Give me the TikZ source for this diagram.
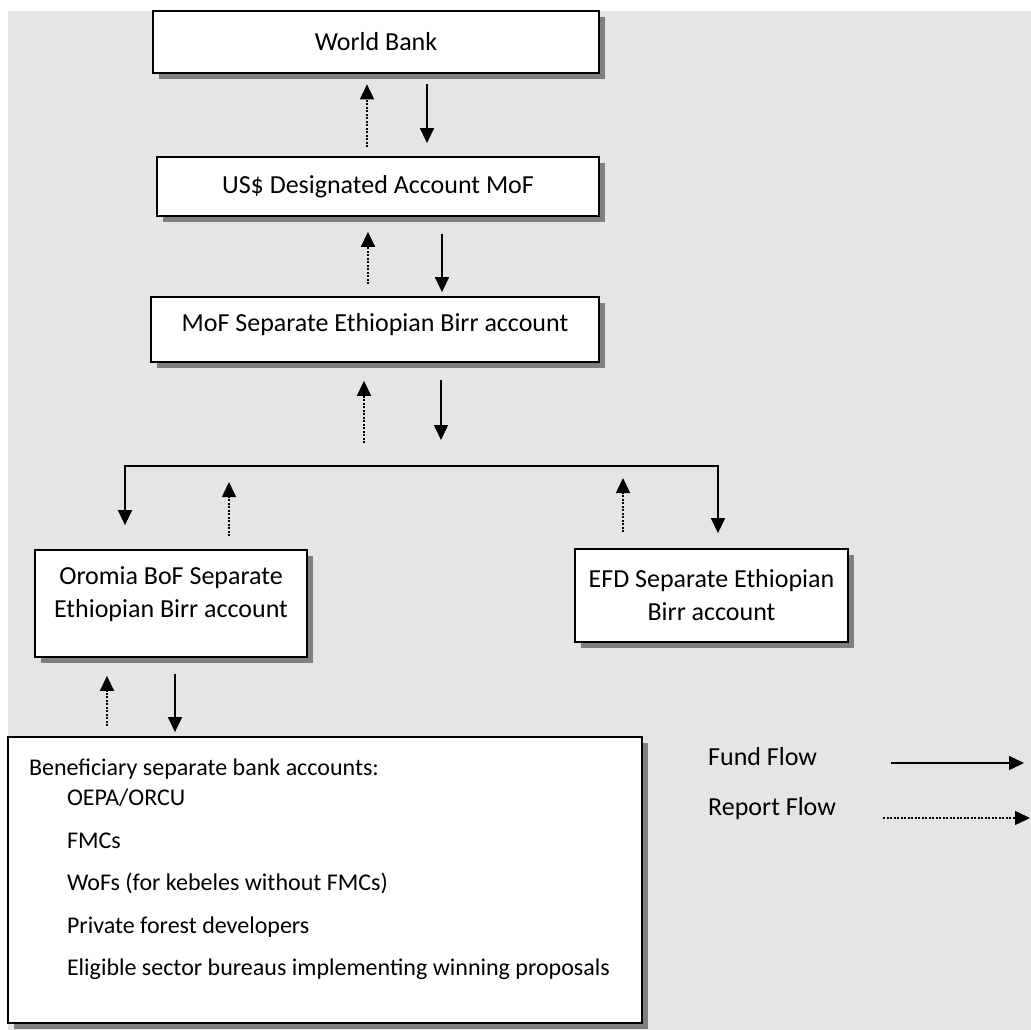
\documentclass[tikz,border=0pt]{standalone}
\usepackage{fontspec}
\setmainfont{Carlito}
\usetikzlibrary{shapes,arrows.meta,shadows,positioning}
\definecolor{bggray}{RGB}{229,229,229}
\definecolor{shadowgray}{RGB}{128,128,128}
\tikzstyle{acct} = [rectangle, draw, fill=white, line width=1.8pt, align=flush center,
    font=\fontsize{26}{33}\selectfont,
    drop shadow={shadow xshift=6pt, shadow yshift=-6pt, fill=shadowgray, opacity=1}]
\tikzstyle{fund} = [draw, line width=1.5pt, ->]
\tikzstyle{report} = [draw, line width=1.5pt, dash pattern=on 2pt off 1.5pt, ->]
\tikzstyle{key} = [inner sep=0pt, anchor=base west, font=\fontsize{26}{33}\selectfont]

\begin{document}
\begin{tikzpicture}[x=1pt, y=-1pt, node distance=144pt, >={Triangle[length=15pt, width=14pt]}]
    \useasboundingbox (0,0) rectangle (1031,1030);
    \fill [bggray] (8,11) rectangle (1031,1030);
    % Place nodes
    \node [acct, line width=2.6pt, minimum width=446pt, minimum height=62pt] (wb) at (376,42) {World Bank};
    \node [acct, below of=wb, node distance=144.5pt, xshift=2pt, minimum width=442pt, minimum height=59pt] (usd) {US\$ Designated Account MoF};
    \node [acct, below of=usd, node distance=143pt, xshift=-3pt, text width=420pt, minimum width=448pt, minimum height=65pt] (mof) {MoF Separate Ethiopian Birr account\par\kern9pt};
    \node [acct, below of=mof, node distance=274pt, xshift=-204pt, text width=240pt, minimum width=272pt, minimum height=107pt] (oromia) {Oromia BoF Separate\\Ethiopian Birr account\par\kern18pt};
    \node [acct, right of=oromia, node distance=540.5pt, yshift=8pt, minimum width=273pt, minimum height=93pt] (efd) {EFD Separate Ethiopian\\Birr account};
    \node [acct, below of=oromia, node distance=276.5pt, xshift=154pt, text width=592pt, inner xsep=21pt, minimum width=634pt, minimum height=286pt, align=flush left, font=\fontsize{24}{30}\selectfont] (ben) {Beneficiary separate bank accounts:\\
        \hspace*{38pt}OEPA/ORCU\\[12.5pt]
        \hspace*{38pt}FMCs\\[12.5pt]
        \hspace*{38pt}WoFs (for kebeles without FMCs)\\[12.5pt]
        \hspace*{38pt}Private forest developers\\[12.5pt]
        \hspace*{38pt}Eligible sector bureaus implementing winning proposals\par\kern21pt};
    % Legend
    \node [key] (fundkey) at (708,765) {Fund Flow};
    \node [key] (reportkey) at (708,815) {Report Flow};
    \coordinate (fundA) at (891,763);
    \coordinate (fundB) at (1024,763);
    \coordinate (reportA) at (883,818);
    \coordinate (reportB) at (1030,818);
    \coordinate (jl) at (125,466);
    \coordinate (jr) at (718,466);
    % Draw edges
    \path [fund, shorten <=10pt, shorten >=13pt] ([xshift=51pt]wb.south) -- ([xshift=51pt]wb.south |- usd.north);
    \path [report, shorten <=9pt, shorten >=10pt] ([xshift=-9pt]wb.south |- usd.north) -- ([xshift=-9pt]wb.south);
    \path [fund, shorten <=17pt, shorten >=4pt] ([xshift=64pt]usd.south) -- ([xshift=64pt]usd.south |- mof.north);
    \path [report, shorten <=12pt, shorten >=15pt] ([xshift=-7pt]mof.north) -- ([xshift=-7pt]mof.north |- usd.south);
    \path [fund, shorten <=17pt, shorten >=26pt] ([xshift=66pt]mof.south) -- ([xshift=66pt]mof.south |- jl);
    \path [report, shorten <=23pt, shorten >=18pt] ([xshift=-11pt]mof.south |- jl) -- ([xshift=-11pt]mof.south);
    \path [fund, <->, shorten <=24pt, shorten >=15pt] (jl |- oromia.north) -- (jl) -- (jr) -- (jr |- efd.north);
    \path [report, shorten <=13pt, shorten >=16pt] ([xshift=58pt]oromia.north) -- ([xshift=58pt]oromia.north |- jl);
    \path [report, shorten <=16pt, shorten >=12pt] ([xshift=-88.5pt]efd.north) -- ([xshift=-88.5pt]efd.north |- jl);
    \path [fund, shorten <=16pt, shorten >=4pt] ([xshift=4pt]oromia.south) -- ([xshift=4pt]oromia.south |- ben.north);
    \path [report, shorten <=10pt, shorten >=18pt] ([xshift=-64pt]oromia.south |- ben.north) -- ([xshift=-64pt]oromia.south);
    \path [fund] (fundA) -- (fundB);
    \path [report] (reportA) -- (reportB);
\end{tikzpicture}
\end{document}
